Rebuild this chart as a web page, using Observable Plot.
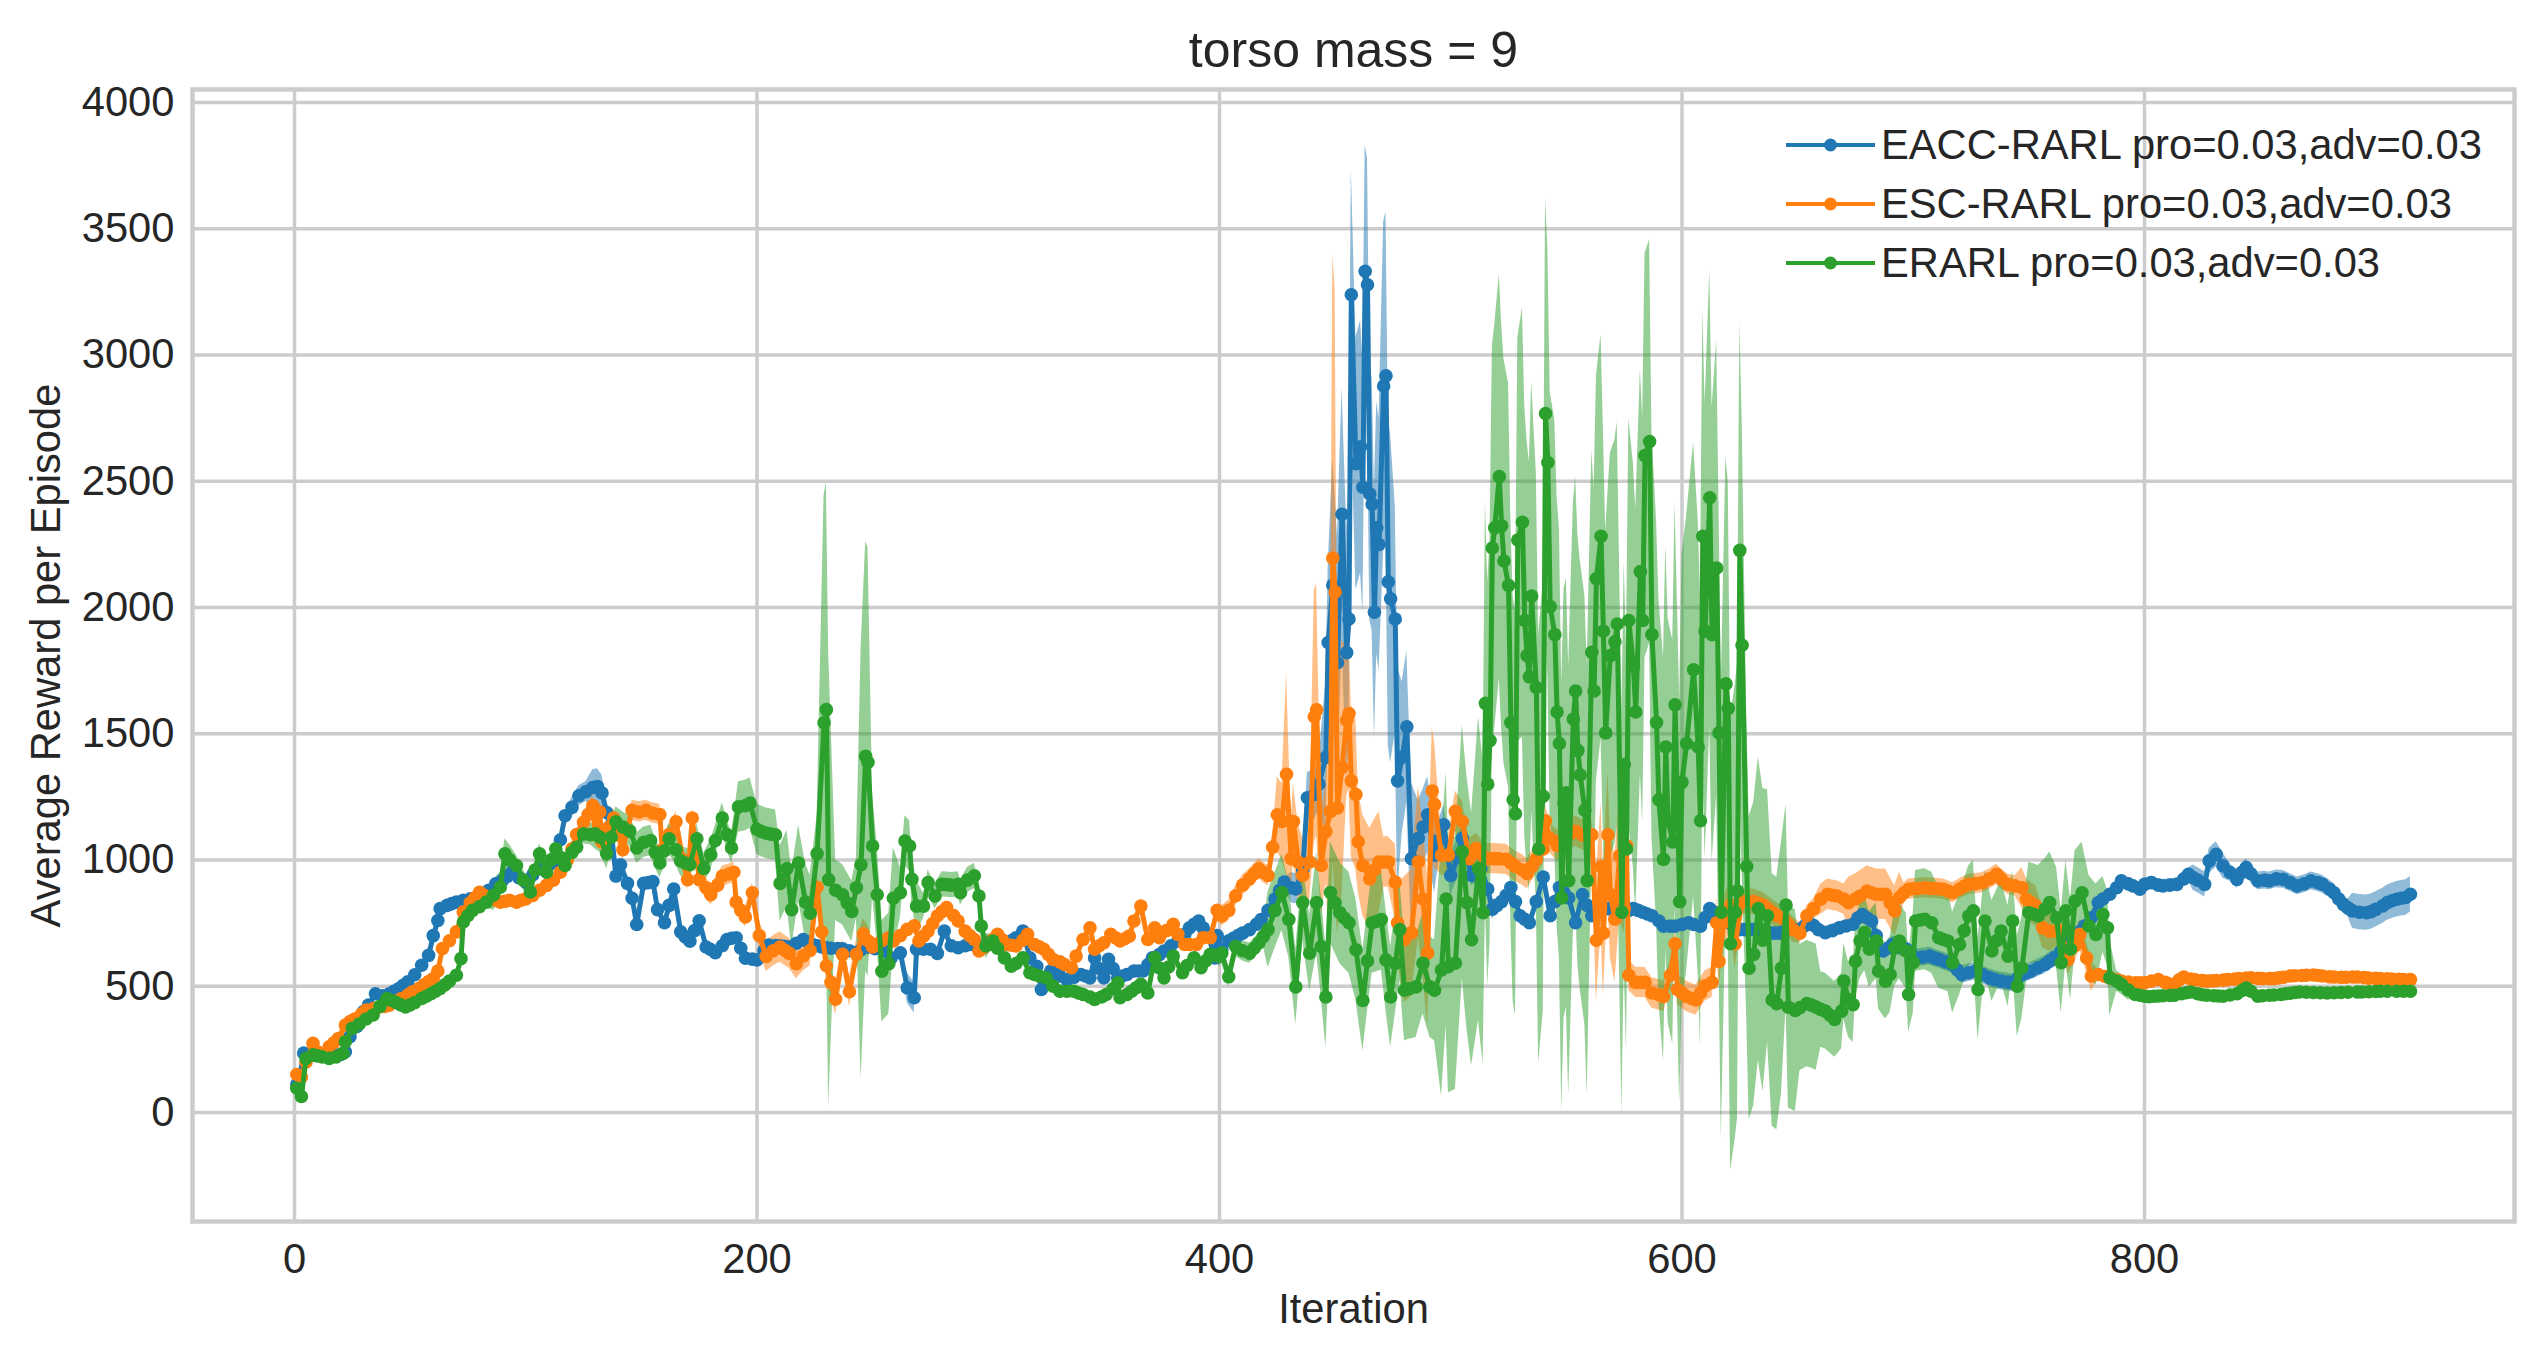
<!DOCTYPE html>
<html><head><meta charset="utf-8">
<script src="https://cdn.jsdelivr.net/npm/d3@7"></script>
<script src="https://cdn.jsdelivr.net/npm/@observablehq/plot@0.6"></script>
<style>
html,body{margin:0;padding:0;background:#fff;}
#wrap{position:relative;width:2546px;height:1360px;}
#legend{position:absolute;left:1786px;top:115px;font-family:"Liberation Sans",Arial,sans-serif;font-size:41.7px;color:#262626;}
#legend .row{display:flex;align-items:center;height:59px;white-space:nowrap;}
#legend svg{margin-right:6px;}
</style>
</head><body>
<div id="wrap"><div id="chart"></div><div id="legend"></div></div>
<script>
const titleText = "torso mass = 9";
const xLabel = "Iteration";
const yLabel = "Average Reward per Episode";
const xTicks = [0, 200, 400, 600, 800];
const yTicks = [0, 500, 1000, 1500, 2000, 2500, 3000, 3500, 4000];
const seriesNames = ["EACC-RARL pro=0.03,adv=0.03", "ESC-RARL pro=0.03,adv=0.03", "ERARL pro=0.03,adv=0.03"];
const seriesColors = ["#1f77b4", "#ff7f0e", "#2ca02c"];

// EACC-RARL mean reward [iteration, value]
const eacc = [[1,110],[2,130],[4,235],[6,230],[8,228],[10,226],[12,225],[14,223],[16,222],[18,226],[20,230],[22,240],[24,300],[27,340],[30,400],[32,425],[35,470],[38,462],[41,470],[43,480],[45,490],[47,503],[49,517],[52,545],[55,583],[58,622],[60,700],[62,760],[63,807],[66,820],[68,827],[70,833],[73,840],[76,846],[79,850],[81,866],[84,880],[87,905],[90,920],[92,935],[94,951],[97,930],[100,912],[103,940],[106,965],[108,973],[110,980],[113,991],[115,1080],[117,1175],[120,1208],[123,1254],[126,1270],[129,1287],[131,1291],[133,1265],[135,1188],[137,1114],[139,936],[141,981],[144,907],[146,848],[148,744],[151,907],[153,910],[155,914],[157,803],[160,751],[162,820],[164,885],[167,715],[169,695],[171,678],[173,720],[175,759],[178,655],[180,645],[182,633],[185,660],[187,685],[189,690],[191,692],[193,650],[195,611],[198,607],[200,604],[203,640],[205,663],[208,661],[210,660],[212,658],[214,655],[217,670],[220,685],[222,675],[224,665],[226,660],[228,655],[230,652],[232,650],[235,649],[237,648],[240,640],[243,633],[245,644],[248,655],[251,648],[255,640],[258,612],[262,632],[265,493],[268,454],[269,646],[272,646],[275,646],[278,630],[281,718],[284,660],[287,652],[290,660],[292,665],[295,658],[297,652],[299,665],[301,679],[303,675],[305,670],[308,665],[310,680],[312,692],[315,718],[318,612],[321,579],[323,487],[325,520],[327,560],[329,550],[331,540],[334,526],[337,535],[340,546],[342,540],[344,533],[346,612],[348,570],[350,533],[352,606],[354,570],[356,533],[358,540],[360,546],[363,560],[365,560],[367,560],[369,585],[371,612],[374,625],[376,639],[379,660],[382,679],[385,705],[387,731],[389,745],[391,758],[393,730],[395,705],[398,612],[399,700],[401,644],[404,680],[406,690],[408,700],[410,710],[413,724],[416,745],[418,764],[421,800],[424,845],[426,880],[428,912],[431,890],[433,885],[436,960],[438,1246],[441,1259],[443,1300],[446,1406],[447,1861],[449,2088],[451,1781],[453,2369],[455,1821],[456,1954],[457,3238],[459,2569],[461,2636],[462,2476],[463,3331],[464,3278],[465,2449],[466,2409],[467,1981],[468,2315],[469,2249],[471,2877],[472,2917],[473,2101],[474,2034],[476,1954],[477,1313],[479,1406],[481,1527],[483,1005],[486,1086],[488,1130],[490,1179],[493,1019],[495,1080],[497,1139],[500,938],[503,1010],[505,1086],[507,1010],[509,938],[511,950],[513,965],[516,885],[518,805],[520,820],[522,835],[524,860],[526,891],[528,835],[530,779],[532,765],[534,751],[537,835],[540,932],[543,779],[545,835],[547,891],[549,870],[551,849],[554,751],[557,863],[559,820],[561,779],[564,793],[566,807],[568,807],[570,807],[572,800],[574,793],[577,800],[579,807],[581,800],[583,793],[585,786],[587,779],[590,758],[592,737],[595,737],[597,737],[600,744],[603,751],[605,744],[608,737],[610,772],[612,807],[614,793],[616,779],[618,765],[620,751],[623,737],[625,724],[627,724],[629,724],[631,724],[633,724],[636,717],[638,710],[640,710],[642,710],[644,717],[646,724],[649,724],[651,724],[653,738],[655,751],[657,740],[659,724],[662,712],[665,720],[668,731],[671,738],[674,745],[676,770],[678,784],[680,770],[682,758],[684,700],[687,639],[689,650],[691,665],[694,655],[697,646],[699,630],[701,612],[704,615],[707,619],[709,612],[711,606],[714,596],[717,586],[719,565],[721,546],[724,553],[727,560],[730,546],[733,533],[735,527],[738,520],[741,516],[743,513],[745,530],[747,546],[749,553],[751,560],[754,573],[757,586],[759,599],[761,612],[764,640],[766,665],[768,679],[770,692],[772,715],[774,738],[777,771],[780,831],[782,845],[785,864],[788,890],[790,917],[793,905],[795,897],[798,884],[800,903],[803,910],[806,900],[808,897],[811,900],[814,903],[817,925],[819,943],[821,930],[823,920],[826,903],[828,996],[831,1022],[834,976],[837,950],[840,923],[842,950],[844,970],[846,945],[849,917],[852,920],[854,917],[857,925],[860,923],[863,910],[866,897],[869,905],[872,917],[875,910],[877,903],[880,885],[882,870],[884,845],[886,824],[888,810],[890,798],[893,793],[896,791],[898,795],[900,804],[903,818],[905,831],[907,838],[909,844],[911,848],[913,851],[915,864]];

// ESC-RARL mean reward [iteration, value]
const esc = [[1,150],[3,140],[5,200],[8,274],[10,240],[12,228],[15,260],[17,276],[19,293],[22,346],[24,360],[26,370],[29,390],[31,405],[34,410],[36,415],[39,420],[41,425],[44,440],[46,450],[49,465],[51,478],[54,492],[56,505],[58,518],[60,530],[62,560],[64,649],[67,680],[70,715],[73,794],[76,830],[78,850],[80,872],[82,860],[84,850],[87,840],[89,833],[91,836],[93,840],[96,833],[98,840],[100,845],[103,859],[106,880],[109,899],[112,920],[115,951],[118,1000],[120,1044],[122,1100],[125,1149],[127,1180],[129,1215],[130,1100],[132,1190],[133,1070],[136,1130],[138,1166],[140,1100],[142,1040],[144,1120],[146,1196],[149,1190],[152,1196],[155,1185],[158,1180],[159,1040],[162,1100],[165,1151],[168,1000],[170,922],[172,1166],[175,922],[178,890],[180,862],[183,900],[185,936],[188,944],[190,951],[191,833],[193,800],[195,774],[198,870],[201,700],[204,618],[207,640],[210,655],[212,642],[214,630],[217,589],[220,620],[223,641],[226,892],[228,715],[230,581],[232,515],[234,448],[237,626],[240,478],[243,626],[246,707],[248,680],[250,655],[252,668],[254,680],[257,692],[259,679],[262,700],[265,725],[268,739],[270,679],[272,698],[274,718],[276,748],[278,778],[280,795],[282,811],[285,780],[287,758],[290,718],[292,700],[294,685],[296,639],[298,652],[300,665],[302,685],[304,705],[306,685],[308,665],[310,662],[312,659],[315,682],[317,705],[320,665],[322,656],[324,646],[326,626],[328,606],[331,596],[333,586],[336,573],[338,619],[341,685],[344,731],[346,646],[348,660],[350,672],[353,705],[355,692],[357,679],[359,688],[361,698],[363,758],[366,817],[369,685],[372,731],[374,692],[377,720],[380,745],[382,705],[385,665],[387,665],[390,665],[393,692],[396,692],[399,800],[401,778],[404,800],[407,858],[410,900],[413,925],[415,945],[417,965],[419,950],[421,938],[423,1050],[425,1179],[427,1152],[429,1339],[431,1005],[432,1152],[434,992],[436,938],[439,992],[441,1567],[442,1594],[444,978],[446,1112],[448,1192],[449,2195],[450,2061],[451,1206],[453,1366],[455,1553],[456,1580],[457,1313],[459,1259],[460,1072],[462,978],[465,925],[467,960],[469,992],[471,992],[473,992],[476,912],[477,751],[480,684],[483,711],[486,992],[488,845],[490,631],[492,1273],[493,1219],[496,1019],[499,1019],[502,1192],[505,1152],[508,1005],[511,1045],[513,1025],[515,1005],[517,1005],[519,1005],[521,1004],[524,1002],[526,988],[528,974],[531,960],[533,946],[535,974],[537,1002],[540,1043],[541,1155],[543,1085],[546,1057],[548,1078],[550,1099],[552,1106],[554,1113],[557,1099],[559,1099],[561,1099],[563,682],[564,835],[565,974],[566,710],[568,1099],[569,863],[571,765],[573,1016],[575,807],[576,1057],[577,543],[580,515],[582,515],[584,515],[587,473],[590,466],[592,459],[595,543],[597,668],[598,487],[600,473],[602,459],[604,452],[606,445],[608,473],[610,501],[613,515],[615,751],[616,598],[618,751],[621,821],[623,668],[626,835],[628,835],[631,835],[633,828],[635,821],[637,807],[639,793],[641,780],[644,765],[646,745],[648,724],[651,710],[654,779],[657,807],[660,844],[663,864],[665,860],[667,857],[670,845],[672,831],[675,845],[677,857],[680,877],[682,870],[684,864],[686,864],[688,864],[690,830],[692,798],[694,851],[696,870],[698,884],[700,886],[702,887],[705,890],[707,888],[709,887],[711,886],[713,884],[715,877],[717,870],[720,885],[722,895],[724,903],[727,906],[730,910],[733,925],[736,943],[738,925],[741,903],[744,897],[747,890],[749,844],[751,830],[753,817],[756,731],[759,718],[762,718],[764,718],[767,606],[770,660],[772,705],[775,612],[777,540],[780,546],[783,538],[785,533],[788,525],[790,520],[793,516],[796,513],[798,513],[800,513],[803,520],[806,526],[809,515],[811,508],[813,507],[815,525],[817,536],[820,528],[822,525],[825,522],[827,520],[829,521],[831,522],[834,524],[836,526],[839,528],[841,530],[844,532],[846,533],[849,531],[851,530],[854,530],[856,530],[858,533],[860,535],[863,540],[865,541],[868,542],[870,543],[873,544],[875,542],[877,540],[880,537],[882,536],[885,535],[887,535],[890,536],[892,536],[895,534],[897,532],[900,531],[902,530],[905,529],[907,528],[910,527],[912,526],[915,526]];

// ERARL mean reward [iteration, value]
const erarl = [[1,96],[3,63],[5,214],[8,228],[10,224],[12,220],[15,214],[18,220],[21,234],[22,280],[25,333],[28,350],[31,370],[34,386],[37,420],[40,451],[42,443],[44,435],[46,426],[48,418],[50,426],[52,435],[55,451],[57,460],[59,470],[61,480],[63,491],[65,505],[67,520],[70,543],[72,609],[73,754],[75,780],[77,800],[80,815],[83,833],[86,860],[89,892],[91,1024],[93,1000],[96,978],[99,920],[102,873],[104,960],[106,1024],[109,951],[111,1000],[113,1044],[115,1010],[117,978],[120,1030],[122,1050],[125,1103],[128,1100],[130,1103],[132,1090],[135,1025],[137,1090],[139,1151],[142,1130],[145,1114],[148,1047],[151,1070],[154,1077],[156,1030],[158,988],[160,1036],[162,1084],[165,1040],[167,996],[169,988],[171,981],[174,1084],[177,966],[180,1020],[182,1077],[185,1166],[187,1100],[189,1047],[192,1210],[195,1215],[197,1225],[200,1121],[202,1112],[204,1106],[206,1102],[208,1099],[210,907],[213,966],[215,803],[218,988],[221,833],[223,789],[226,1025],[229,1543],[230,1595],[231,922],[234,880],[237,862],[239,830],[241,796],[243,890],[245,981],[247,1410],[248,1387],[250,1055],[252,862],[254,559],[257,589],[259,848],[262,870],[264,1075],[266,1055],[267,923],[269,817],[272,817],[274,910],[277,857],[280,903],[282,902],[284,900],[287,903],[288,870],[291,920],[294,937],[296,857],[297,738],[299,659],[302,679],[304,650],[307,612],[310,579],[312,590],[315,612],[318,553],[320,546],[322,540],[325,533],[328,500],[331,480],[334,480],[337,480],[339,473],[341,467],[344,457],[346,447],[349,457],[351,467],[354,490],[356,513],[357,454],[360,467],[362,480],[364,494],[366,507],[369,473],[372,612],[374,572],[376,533],[378,576],[380,619],[384,553],[386,582],[389,612],[392,573],[394,600],[396,626],[398,622],[400,619],[401,631],[404,537],[407,657],[410,640],[413,631],[415,650],[417,671],[419,697],[421,724],[424,800],[427,871],[430,764],[433,497],[436,831],[439,631],[442,831],[444,657],[446,457],[448,871],[450,830],[452,791],[454,770],[456,751],[459,644],[462,443],[464,600],[466,751],[468,757],[470,764],[472,604],[474,457],[476,590],[478,724],[480,484],[482,490],[485,497],[488,591],[491,497],[493,484],[496,564],[498,845],[499,577],[502,591],[505,1032],[507,831],[509,684],[512,965],[514,791],[515,1620],[516,1300],[517,1473],[518,2235],[519,2315],[521,2518],[522,2323],[523,2184],[525,2087],[526,1544],[527,1238],[528,1183],[529,2267],[531,2337],[532,1948],[533,1809],[534,1725],[535,2045],[537,1683],[538,1043],[540,1252],[541,2768],[542,2574],[543,2003],[545,1892],[546,1586],[547,1461],[548,849],[549,1224],[550,1266],[551,918],[553,1558],[554,1669],[555,1433],[556,1336],[558,1197],[559,918],[561,1822],[562,1669],[563,2114],[565,2282],[566,1906],[567,1503],[569,1809],[571,1864],[572,1934],[574,793],[575,1378],[576,1043],[577,1948],[579,1767],[580,1586],[582,2142],[583,1948],[584,2601],[586,2657],[587,1892],[589,1544],[590,1238],[592,1002],[593,1447],[594,1155],[596,1071],[597,1614],[599,835],[600,1308],[602,1461],[605,1753],[607,1447],[608,1155],[609,2282],[610,1906],[612,2434],[613,1892],[615,2156],[616,1503],[617,793],[619,1697],[620,1600],[621,668],[623,793],[624,877],[625,2226],[626,1850],[628,974],[629,571],[631,626],[633,807],[635,682],[637,779],[639,445],[641,431],[643,571],[645,821],[646,417],[649,404],[651,415],[654,431],[656,425],[658,417],[660,408],[662,401],[664,385],[666,368],[669,401],[670,520],[672,447],[674,427],[675,599],[677,680],[679,712],[681,646],[684,679],[685,560],[688,520],[690,546],[692,652],[694,679],[697,639],[698,467],[700,593],[701,758],[703,762],[705,765],[708,751],[711,692],[713,685],[715,679],[717,593],[720,665],[722,720],[724,778],[726,798],[728,487],[731,758],[734,639],[736,680],[738,718],[741,619],[743,758],[745,500],[747,573],[750,791],[752,785],[754,778],[757,805],[759,831],[762,771],[764,593],[766,798],[768,646],[770,837],[773,870],[776,738],[779,705],[782,784],[784,731],[785,533],[788,520],[790,507],[793,485],[796,467],[798,464],[800,460],[802,458],[804,460],[806,461],[808,462],[811,463],[813,464],[816,470],[818,474],[820,477],[823,470],[825,466],[827,464],[830,462],[832,461],[834,460],[837,465],[840,470],[842,482],[844,493],[846,480],[849,460],[851,462],[854,464],[856,465],[859,467],[861,470],[863,472],[865,475],[867,477],[870,476],[873,475],[876,474],[879,473],[882,474],[885,475],[888,476],[892,477],[894,477],[897,478],[900,479],[902,480],[905,480],[909,480],[912,480],[915,480]];

// half-width of the shaded band, read per stretch: [from iteration, spread]
const eaccSpread = [[0,15],[118,40],[128,70],[134,40],[138,15],[263,60],[269,15],[430,60],[437,100],[445,300],[448,500],[457,500],[470,650],[475,450],[479,300],[486,150],[495,80],[505,40],[520,25],[690,35],[765,25],[820,50],[835,35],[890,70]];
const escSpread = [[0,20],[125,40],[200,60],[250,20],[400,40],[424,150],[428,400],[431,150],[440,500],[443,200],[448,600],[449,1200],[451,500],[454,300],[460,200],[470,100],[476,150],[480,250],[486,300],[492,250],[496,80],[510,60],[562,250],[574,100],[577,60],[615,100],[625,50],[650,40],[660,60],[672,100],[695,40],[745,80],[760,60],[780,20],[800,15]];
const erarlSpread = [[0,20],[85,60],[95,40],[130,60],[190,100],[210,150],[228,900],[232,120],[245,850],[250,200],[260,100],[270,50],[300,25],[400,40],[420,150],[440,200],[495,500],[510,600],[515,800],[530,850],[560,800],[600,900],[628,600],[637,500],[645,400],[650,250],[660,150],[700,200],[780,150],[787,40],[795,15]];

const means = [eacc, esc, erarl];
const spreads = [eaccSpread, escSpread, erarlSpread];
const spreadAt = (table, x) => { let s = table[0][1]; for (const [from, v] of table) if (x >= from) s = v; return s; };
const bands = means.map((m, i) => m.map(([x, y]) => { const s = spreadAt(spreads[i], x); return [x, y - s, y + s]; }));

const FONT = '"Liberation Sans", Arial, sans-serif';
const TXT = "#262626";
const GRID = "#cccccc";

const marks = [
  Plot.gridX(xTicks, {stroke: GRID, strokeOpacity: 1, strokeWidth: 3.5}),
  Plot.gridY(yTicks, {stroke: GRID, strokeOpacity: 1, strokeWidth: 3.5}),
  Plot.frame({stroke: GRID, strokeWidth: 4.5})
];
bands.forEach((b, i) => {
  marks.push(Plot.areaY(b, {x: d => d[0], y1: d => d[1], y2: d => d[2], fill: seriesColors[i], fillOpacity: 0.5}));
});
means.forEach((m, i) => {
  marks.push(Plot.line(m, {x: d => d[0], y: d => d[1], stroke: seriesColors[i], strokeWidth: 5}));
  marks.push(Plot.dot(m, {x: d => d[0], y: d => d[1], r: 6.8, fill: seriesColors[i], stroke: "none"}));
});
marks.push(
  Plot.axisX({ticks: xTicks, tickSize: 0, tickPadding: 22, fontSize: 41.7, label: null, tickFormat: d => String(d)}),
  Plot.axisY({ticks: yTicks, tickSize: 0, tickPadding: 18, fontSize: 41.7, label: null, tickFormat: d => String(d)}),
  Plot.text([titleText], {frameAnchor: "top", lineAnchor: "middle", dy: -39, fontSize: 50, fill: TXT}),
  Plot.text([xLabel], {frameAnchor: "bottom", lineAnchor: "middle", dy: 88, fontSize: 41.7, fill: TXT}),
  Plot.text([yLabel], {frameAnchor: "left", textAnchor: "middle", lineAnchor: "middle", dx: -146, rotate: -90, fontSize: 41.7, fill: TXT})
);

const chart = Plot.plot({
  width: 2546,
  height: 1360,
  marginLeft: 192,
  marginRight: 32,
  marginTop: 89,
  marginBottom: 139,
  style: {fontFamily: FONT, color: TXT, background: "#fff", overflow: "visible"},
  x: {domain: [-44.1, 960], axis: null},
  y: {domain: [-432, 4051], axis: null},
  marks
});
document.getElementById("chart").appendChild(chart);

const legend = document.getElementById("legend");
seriesNames.forEach((name, i) => {
  const row = document.createElement("div");
  row.className = "row";
  row.innerHTML = `<svg width="89" height="20"><line x1="0" y1="10" x2="89" y2="10" stroke="${seriesColors[i]}" stroke-width="4.2"/><circle cx="44.5" cy="10" r="6.5" fill="${seriesColors[i]}"/></svg><span>${name}</span>`;
  legend.appendChild(row);
});
</script>
</body></html>
